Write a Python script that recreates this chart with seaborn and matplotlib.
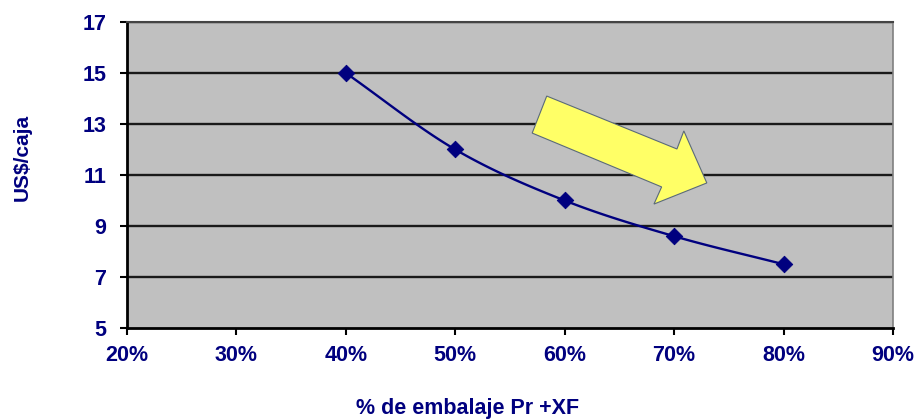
import numpy as np
import pandas as pd
import matplotlib
matplotlib.use("Agg")
import matplotlib.pyplot as plt
from matplotlib.patches import Polygon
import seaborn as sns

# Data
pct_embalaje = [0.40, 0.50, 0.60, 0.70, 0.80]
usd_caja = [15.0, 12.0, 10.0, 8.6, 7.5]
x_ticks = [0.2, 0.3, 0.4, 0.5, 0.6, 0.7, 0.8, 0.9]
x_tick_labels = ["20%", "30%", "40%", "50%", "60%", "70%", "80%", "90%"]
y_ticks = [5, 7, 9, 11, 13, 15, 17]

sns.set_style("white")
plt.rcParams["font.family"] = ["Liberation Sans", "DejaVu Sans"]

NAVY = "#00007f"
df = pd.DataFrame({"pct": pct_embalaje, "usd": usd_caja})

fig = plt.figure(figsize=(9.22, 4.19), dpi=100)
ax = fig.add_axes([0.1377, 0.2172, 0.8308, 0.7303])
ax.set_facecolor("#c0c0c0")


def catmull_rom(xs, ys, n=30):
    """Smooth curve through the points (Catmull-Rom spline)."""
    px = np.concatenate([[2 * xs[0] - xs[1]], xs, [2 * xs[-1] - xs[-2]]])
    py = np.concatenate([[2 * ys[0] - ys[1]], ys, [2 * ys[-1] - ys[-2]]])
    out_x, out_y = [], []
    t = np.linspace(0, 1, n)
    for i in range(1, len(px) - 2):
        for arr, out in ((px, out_x), (py, out_y)):
            p0, p1, p2, p3 = arr[i - 1], arr[i], arr[i + 1], arr[i + 2]
            seg = 0.5 * ((2 * p1) + (-p0 + p2) * t
                         + (2 * p0 - 5 * p1 + 4 * p2 - p3) * t ** 2
                         + (-p0 + 3 * p1 - 3 * p2 + p3) * t ** 3)
            out.extend(seg)
    return np.array(out_x), np.array(out_y)


sx, sy = catmull_rom(np.array(pct_embalaje), np.array(usd_caja))
smooth = pd.DataFrame({"pct": sx, "usd": sy})

# horizontal gridlines
for yv in y_ticks[1:]:
    ax.axhline(yv, color="#1a1a1a", lw=1.7, zorder=1)

sns.lineplot(data=smooth, x="pct", y="usd", ax=ax, color=NAVY, lw=1.7,
             sort=False, zorder=3)
sns.scatterplot(data=df, x="pct", y="usd", ax=ax, marker="D", s=70,
                color=NAVY, edgecolor=NAVY, zorder=4)

# yellow trend arrow
arrow_pts = [(0.548, 0.758), (0.529, 0.637), (0.698, 0.461), (0.688, 0.405),
             (0.757, 0.474), (0.727, 0.644), (0.718, 0.585)]
ax.add_patch(Polygon(arrow_pts, closed=True, transform=ax.transAxes,
                     facecolor="#ffff66", edgecolor="#5a6a7a", lw=0.8,
                     zorder=5))

ax.set_xlim(0.2, 0.9)
ax.set_ylim(5, 17)
ax.set_xticks(x_ticks)
ax.set_xticklabels(x_tick_labels)
ax.set_yticks(y_ticks)

for side in ("left", "bottom"):
    ax.spines[side].set_color("black")
    ax.spines[side].set_linewidth(2)
ax.spines["top"].set_color("#444444")
ax.spines["top"].set_linewidth(1.5)
ax.spines["right"].set_color("#808080")
ax.spines["right"].set_linewidth(1.2)

ax.tick_params(axis="both", which="major", direction="out", length=5,
               width=1.5, color="black", labelsize=15.5, labelcolor=NAVY,
               bottom=True, left=True)
ax.tick_params(axis="y", pad=10)
ax.tick_params(axis="x", pad=7)
for lab in ax.get_xticklabels() + ax.get_yticklabels():
    lab.set_fontweight("bold")

ax.set_xlabel("% de embalaje Pr +XF", fontsize=15.5, fontweight="bold",
              color=NAVY, va="center")
ax.xaxis.set_label_coords(0.445, -0.262)
ax.set_ylabel("US$/caja", fontsize=15, fontweight="bold", color=NAVY,
              va="center")
ax.yaxis.set_label_coords(-0.137, 0.559)

fig.savefig("out.png", dpi=100)
